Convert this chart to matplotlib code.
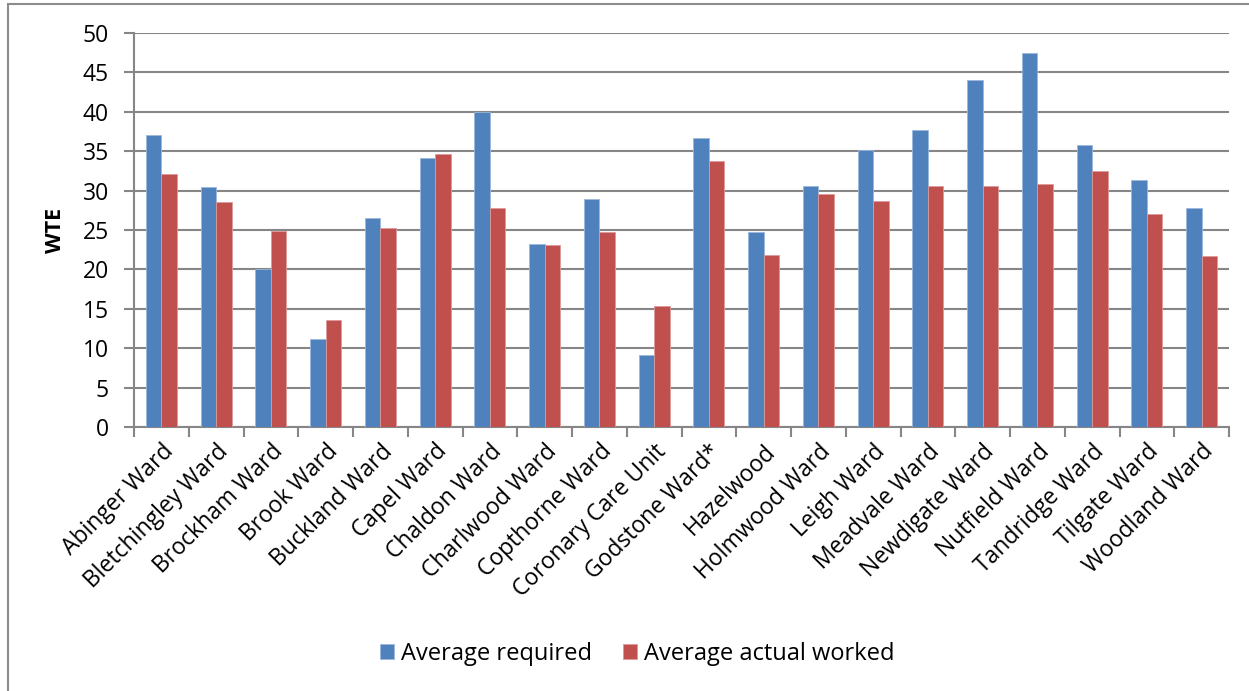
import numpy as np
import matplotlib.pyplot as plt
from matplotlib.patches import Rectangle

# ward names and average WTE values
wards = ['Abinger Ward', 'Bletchingley Ward', 'Brockham Ward', 'Brook Ward',
         'Buckland Ward', 'Capel Ward', 'Chaldon Ward', 'Charlwood Ward',
         'Copthorne Ward', 'Coronary Care Unit', 'Godstone Ward*', 'Hazelwood',
         'Holmwood Ward', 'Leigh Ward', 'Meadvale Ward', 'Newdigate Ward',
         'Nutfield Ward', 'Tandridge Ward', 'Tilgate Ward', 'Woodland Ward']
required = [37.0, 30.4, 20.0, 11.2, 26.5, 34.2, 40.0, 23.2, 28.9, 9.2,
            36.7, 24.8, 30.6, 35.2, 37.7, 44.0, 47.4, 35.8, 31.3, 27.8]
worked = [32.1, 28.6, 24.9, 13.6, 25.3, 34.7, 27.8, 23.1, 24.7, 15.4,
          33.7, 21.8, 29.6, 28.7, 30.6, 30.6, 30.9, 32.5, 27.0, 21.7]

blue = '#4F81BD'
red = '#C0504D'
grid_grey = '#868686'

plt.rcParams['font.family'] = ['Open Sans', 'DejaVu Sans']

fig = plt.figure(figsize=(12.49, 6.91), dpi=100)
ax = fig.add_axes([134 / 1249, 1 - 427 / 691, (1229 - 134) / 1249, (427 - 33) / 691])

# outer chart border (cut off on right and bottom)
fig.patches.append(Rectangle((8 / 1249, -0.1), 1.2, 1.1 - 4 / 691,
                             transform=fig.transFigure, fill=False,
                             edgecolor='#8c8c8c', linewidth=1.5))

x = np.arange(len(wards))
w = 0.283
ax.bar(x - w / 2, required, w, color=blue, label='Average required', zorder=3,
       edgecolor='#9bb7dd', linewidth=0.6)
ax.bar(x + w / 2, worked, w, color=red, label='Average actual worked', zorder=3,
       edgecolor='#dc9b9a', linewidth=0.6)

ax.set_xlim(-0.5, len(wards) - 0.5)
ax.set_ylim(0, 50)
ax.set_yticks(range(0, 51, 5))
ax.yaxis.grid(True, color=grid_grey, linewidth=1.5, zorder=0)
ax.set_axisbelow(True)

ax.set_xticks(x)
ax.set_xticklabels(wards, rotation=45, ha='right', rotation_mode='anchor',
                   fontsize=16.5)
ax.tick_params(axis='x', length=0, pad=9)
ax.set_xticks(np.arange(-0.5, len(wards), 1), minor=True)
ax.tick_params(axis='x', which='minor', length=7, width=1.5, color=grid_grey)
ax.tick_params(axis='y', length=7, width=1.5, color=grid_grey, labelsize=16.5, pad=11)

for s in ['top', 'right']:
    ax.spines[s].set_visible(False)
for s in ['left', 'bottom']:
    ax.spines[s].set_color(grid_grey)
    ax.spines[s].set_linewidth(1.5)

ax.set_ylabel('WTE', fontsize=15.5, fontweight='bold', labelpad=12)

fig.legend(loc='center', bbox_to_anchor=(0.51, 1 - 654 / 691), ncol=2,
           frameon=False, fontsize=17, handlelength=0.6, handleheight=0.6,
           columnspacing=1.3, handletextpad=0.3)

fig.savefig('out.png', dpi=100)
